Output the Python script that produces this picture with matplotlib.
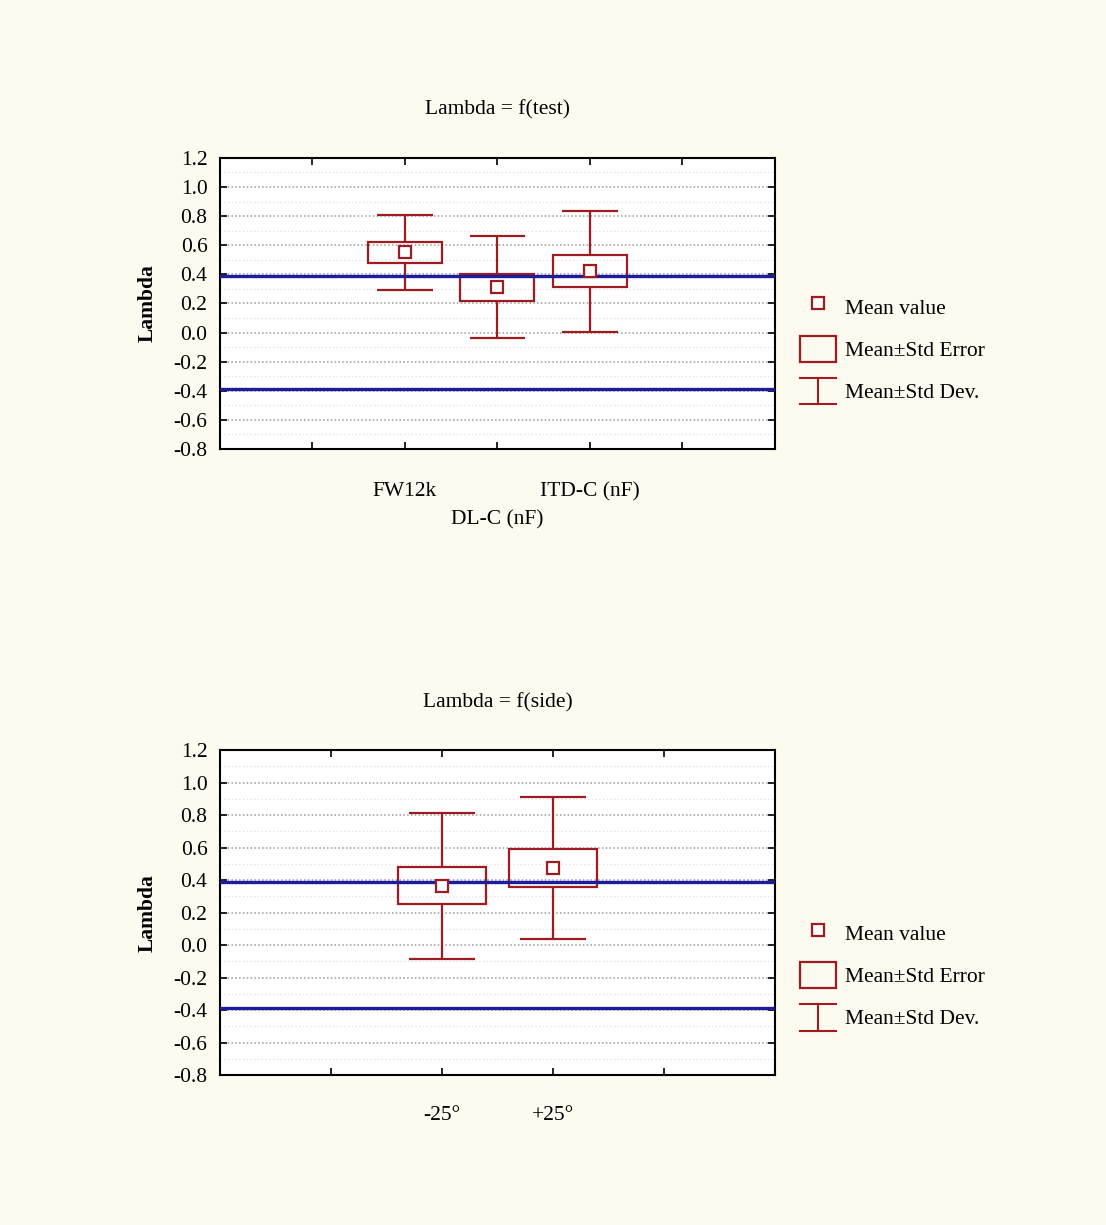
import numpy as np
import matplotlib
matplotlib.use('Agg')
import matplotlib.pyplot as plt
from matplotlib.lines import Line2D
from matplotlib.patches import Rectangle
from matplotlib.legend_handler import HandlerBase
from matplotlib.ticker import FormatStrFormatter, MultipleLocator

# values
tests = ['FW12k', 'DL-C (nF)', 'ITD-C (nF)']
test_mean = [0.55, 0.31, 0.42]
test_se = [0.07, 0.09, 0.11]
test_sd = [0.255, 0.35, 0.415]

sides = ['-25°', '+25°']
side_mean = [0.365, 0.475]
side_se = [0.115, 0.115]
side_sd = [0.45, 0.435]

limits = [-0.39, 0.39]

RED = '#9E1B20'
BLUE = '#1C1C9C'
BG = '#FDFAF0'

plt.rcParams['font.family'] = ['Liberation Serif', 'DejaVu Serif']
plt.rcParams['axes.unicode_minus'] = False
FS = 15.5


class HandlerWhisker(HandlerBase):
    # the "I" shaped key for mean +- std dev
    def create_artists(self, legend, orig_handle, xdescent, ydescent,
                       width, height, fontsize, trans):
        x0, y0 = -xdescent, -ydescent
        xc = x0 + width / 2
        kw = dict(color=RED, lw=1.5, transform=trans)
        return [Line2D([xc, xc], [y0, y0 + height], **kw),
                Line2D([x0, x0 + width], [y0 + height, y0 + height], **kw),
                Line2D([x0, x0 + width], [y0, y0], **kw)]


def draw_panel(ax, pos, mean, se, sd, title, nticks, legend_y):
    pos = np.asarray(pos, dtype=float)
    mean = np.asarray(mean)
    se = np.asarray(se)
    sd = np.asarray(sd)

    for y in limits:
        ax.axhline(y, color=BLUE, lw=2.4, zorder=4)

    # std error boxes
    ax.bar(pos, 2 * se, bottom=mean - se, width=0.8, fill=False,
           edgecolor=RED, lw=1.6, zorder=3)
    # whiskers from box edge to mean +- sd
    ax.vlines(pos, mean + se, mean + sd, color=RED, lw=1.6, zorder=3)
    ax.vlines(pos, mean - sd, mean - se, color=RED, lw=1.6, zorder=3)
    ax.hlines(mean + sd, pos - 0.3, pos + 0.3, color=RED, lw=1.6, zorder=3)
    ax.hlines(mean - sd, pos - 0.3, pos + 0.3, color=RED, lw=1.6, zorder=3)
    ax.plot(pos, mean, 's', mfc='white', mec=RED, ms=8, mew=1.6, zorder=5)

    ax.set_xlim(0, nticks + 1)
    ax.set_ylim(-0.8, 1.2)
    ax.yaxis.set_major_locator(MultipleLocator(0.2))
    ax.yaxis.set_minor_locator(MultipleLocator(0.1))
    ax.yaxis.set_major_formatter(FormatStrFormatter('%.1f'))
    ax.grid(axis='y', which='major', color='#9a9a9a', ls=(0, (1, 1.5)), lw=1.1)
    ax.grid(axis='y', which='minor', color='#e0e0e0', ls=(0, (1, 2)), lw=0.9)
    ax.set_axisbelow(True)
    ax.tick_params(which='both', direction='in', top=True, right=True,
                   labelsize=FS, width=1.2)
    ax.tick_params(which='major', length=5)
    ax.tick_params(which='minor', length=0)
    ax.tick_params(axis='y', pad=9)
    for s in ax.spines.values():
        s.set_linewidth(1.5)

    ax.set_title(title, fontsize=FS, pad=31)
    ax.set_ylabel('Lambda', fontsize=FS, fontweight='bold', labelpad=11)

    handles = [Line2D([], [], marker='s', ls='none', mfc='white', mec=RED,
                      ms=8, mew=1.6),
               Rectangle((0, 0), 1, 1, fill=False, ec=RED, lw=1.6),
               Line2D([], [], color=RED)]
    labels = ['Mean value', 'Mean±Std Error', 'Mean±Std Dev.']
    ax.legend(handles, labels, loc='center left',
              bbox_to_anchor=(1.01, legend_y), frameon=False, fontsize=FS,
              handlelength=1.7, handleheight=1.5, labelspacing=0.75,
              handletextpad=0.4, handler_map={handles[2]: HandlerWhisker()})


fig = plt.figure(figsize=(11.06, 12.25), dpi=100, facecolor=BG)

ax1 = fig.add_axes([0.1989, 0.6335, 0.5018, 0.2376])
x1 = np.arange(2, 2 + len(tests))
draw_panel(ax1, x1, test_mean, test_se, test_sd, 'Lambda = f(test)', 5, 0.344)
major_labels = ['', tests[0], '', tests[2], '']
ax1.set_xticks(np.arange(1, 6), major_labels)
ax1.xaxis.remove_overlapping_locs = False
ax1.set_xticks([x1[1]], [tests[1]], minor=True)
ax1.tick_params(axis='x', which='major', pad=24)
ax1.tick_params(axis='x', which='minor', pad=44)

ax2 = fig.add_axes([0.1989, 0.1224, 0.5018, 0.2653])
x2 = np.arange(2, 2 + len(sides))
draw_panel(ax2, x2, side_mean, side_se, side_sd, 'Lambda = f(side)', 4, 0.308)
ax2.set_xticks(np.arange(1, 5), ['', sides[0], sides[1], ''])
ax2.tick_params(axis='x', which='major', pad=22)

fig.savefig('out.png', dpi=100, facecolor=BG)
